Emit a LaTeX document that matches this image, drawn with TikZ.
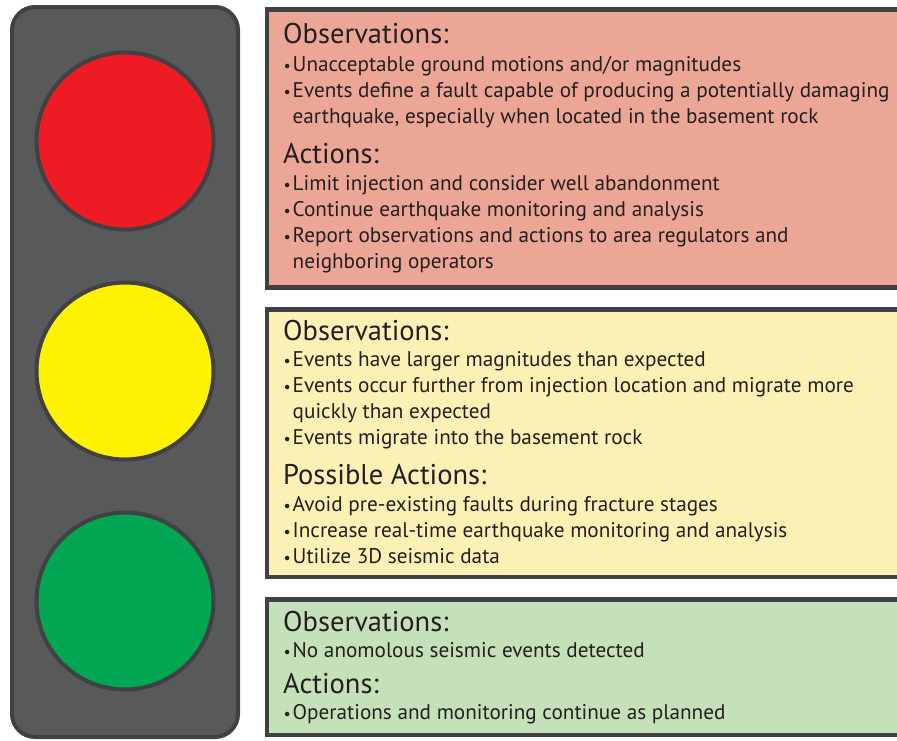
\documentclass[tikz,border=0pt]{standalone}
\usepackage{fontspec}
\setmainfont{PT Sans}
\usepackage{tikz}
\usetikzlibrary{positioning}

\definecolor{ink}{HTML}{231F20}
\definecolor{frame}{HTML}{414042}
\definecolor{housingfill}{HTML}{58595B}
\definecolor{lampred}{HTML}{ED1C24}
\definecolor{lampyellow}{HTML}{FFF200}
\definecolor{lampgreen}{HTML}{00A651}
\definecolor{panelred}{HTML}{ECA696}
\definecolor{panelyellow}{HTML}{FBF1B5}
\definecolor{panelgreen}{HTML}{C5E1B9}

\tikzset{
  housing/.style={draw=frame, line width=4pt, fill=housingfill, rounded corners=23pt},
  lamp/.style={draw=frame, line width=4pt},
  panel/.style={draw=frame, line width=4.5pt},
  heading/.style={anchor=base west, inner sep=0pt, text=ink, font=\fontsize{28.5}{32}\selectfont},
  item/.style={anchor=base west, inner sep=0pt, text=ink, font=\fontsize{21.2}{26}\selectfont},
  dot/.style={anchor=base west, inner sep=0pt, text=ink, font=\fontsize{16}{26}\selectfont}
}

% bullet point: name, baseline, text
\newcommand{\point}[3]{%
  \node[dot] (#1-dot) at (283.5,#2) {•};
  \node[item] (#1) at (292.5,#2) {\begin{tabular}[t]{@{}l@{}}#3\end{tabular}};
}

\begin{document}
\begin{tikzpicture}[x=1pt, y=-1pt]
    \useasboundingbox (0,0) rectangle (897,740);

    % traffic light
    \draw[housing] (12,7) rectangle (238,737);
    \draw[lamp, fill=lampred] (125,141) circle (88.5);
    \draw[lamp, fill=lampyellow] (125,371) circle (88.5);
    \draw[lamp, fill=lampgreen] (125,601) circle (88.5);

    % red panel
    \draw[panel, fill=panelred] (267,9.5) rectangle (910,287.5);
    \node[heading] (r-obs) at (283,43) {Observations:};
    \point{r-obs-1}{71}{Unacceptable ground motions and/or magnitudes}
    \point{r-obs-2}{97}{Events define a fault capable of producing a potentially damaging\\earthquake, especially when located in the basement rock}
    \node[heading] (r-act) at (283,163) {Actions:};
    \point{r-act-1}{190}{Limit injection and consider well abandonment}
    \point{r-act-2}{216}{Continue earthquake monitoring and analysis}
    \point{r-act-3}{242}{Report observations and actions to area regulators and\\neighboring operators}

    % yellow panel
    \draw[panel, fill=panelyellow] (267,309.5) rectangle (910,577);
    \node[heading] (y-obs) at (283,340) {Observations:};
    \point{y-obs-1}{366}{Events have larger magnitudes than expected}
    \point{y-obs-2}{392}{Events occur further from injection location and migrate more\\quickly than expected}
    \point{y-obs-3}{444}{Events migrate into the basement rock}
    \node[heading] (y-act) at (283,484) {Possible Actions:};
    \point{y-act-1}{511}{Avoid pre-existing faults during fracture stages}
    \point{y-act-2}{537}{Increase real-time earthquake monitoring and analysis}
    \point{y-act-3}{563}{Utilize 3D seismic data}

    % green panel
    \draw[panel, fill=panelgreen] (267,599.5) rectangle (910,735);
    \node[heading] (g-obs) at (283,631) {Observations:};
    \point{g-obs-1}{657}{No anomolous seismic events detected}
    \node[heading] (g-act) at (283,693) {Actions:};
    \point{g-act-1}{719}{Operations and monitoring continue as planned}
\end{tikzpicture}
\end{document}
